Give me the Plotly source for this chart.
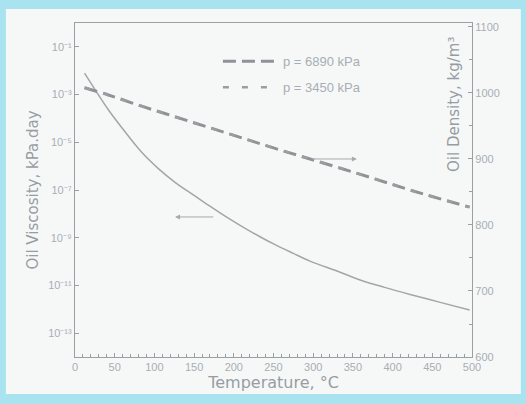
import plotly.graph_objects as go

# --- data ---
temp_visc = [12, 25, 42, 60, 84, 105, 126, 150, 168, 190, 210, 233, 252, 275, 296, 330, 359, 390, 422, 460, 497]
viscosity = [7.9e-3, 1.66e-3, 2.3e-4, 3.7e-5, 3.8e-6, 7.9e-7, 2.1e-7, 5.9e-8, 2.3e-8, 7.6e-9, 3.0e-9,
             1.1e-9, 5.1e-10, 2.2e-10, 1.05e-10, 4.0e-11, 1.7e-11, 8.3e-12, 4.2e-12, 1.95e-12, 9.3e-13]

temp_dens = [12, 42, 84, 126, 168, 210, 252, 296, 372, 422, 497]
density_6890 = [1008, 997, 980, 964, 948, 932, 916, 900, 872, 853, 827]
density_3450 = [1008, 997, 980, 964, 948, 932, 916, 900, 872, 853, 827]

x_ticks = [0, 50, 100, 150, 200, 250, 300, 350, 400, 450, 500]
visc_tickvals = [1e-1, 1e-3, 1e-5, 1e-7, 1e-9, 1e-11, 1e-13]
visc_ticktext = ["10⁻¹", "10⁻³", "10⁻⁵", "10⁻⁷", "10⁻⁹", "10⁻¹¹", "10⁻¹³"]
dens_ticks = [600, 700, 800, 900, 1000, 1100]

FONT = "Liberation Sans, Arial, sans-serif"
TFONT = "DejaVu Sans, Verdana, sans-serif"
TICK_C = "#a7aeb3"
TITLE_C = "#969da2"
AXIS_C = "#9a9fa3"

fig = go.Figure()
fig.add_trace(go.Scatter(x=temp_visc, y=viscosity, mode="lines", showlegend=False,
                         line=dict(color="#a3a6a8", width=1.5, shape="spline", smoothing=1.0)))
fig.add_trace(go.Scatter(x=temp_dens, y=density_6890, mode="lines", yaxis="y2",
                         name="p = 6890 kPa", legendgroup="a",
                         line=dict(color="#8f9396", width=3, dash="13px,6px", shape="spline", smoothing=1.0)))
fig.add_trace(go.Scatter(x=temp_dens, y=density_3450, mode="lines", yaxis="y2",
                         name="p = 3450 kPa", legendgroup="b",
                         line=dict(color="#9a9ea1", width=2.5, dash="6px,13px", shape="spline", smoothing=1.0)))

axis_common = dict(showline=True, linecolor=AXIS_C, linewidth=1.2, ticks="inside",
                   tickcolor=AXIS_C, ticklen=4, showgrid=False, zeroline=False,
                   tickfont=dict(family=FONT, size=11, color=TICK_C))

fig.update_layout(
    width=526, height=404,
    margin=dict(l=75, r=54, t=23, b=47),
    paper_bgcolor="#a9e3ef",
    plot_bgcolor="#f6f8f8",
    font=dict(family=FONT, color=TICK_C),
    xaxis=dict(range=[0, 500], tickvals=x_ticks, mirror=True,
               minor=dict(dtick=10, ticks="inside", ticklen=3, tickcolor=AXIS_C),
               title=dict(text="Temperature, °C", font=dict(family=TFONT, size=16, color=TITLE_C), standoff=3),
               **axis_common),
    yaxis=dict(type="log", range=[-14, 0], tickvals=visc_tickvals, ticktext=visc_ticktext,
               title=dict(text="Oil Viscosity, kPa.day", font=dict(family=TFONT, size=15, color=TITLE_C), standoff=5),
               **axis_common),
    yaxis2=dict(overlaying="y", side="right", range=[600, 1106], tickvals=dens_ticks,
                minor=dict(dtick=50, ticks="inside", ticklen=3, tickcolor=AXIS_C),
                **axis_common),
    legend=dict(x=0.36, y=0.93, xanchor="left", yanchor="top", bgcolor="rgba(0,0,0,0)",
                font=dict(family=FONT, size=13, color=TICK_C), traceorder="grouped",
                tracegroupgap=6, itemwidth=55),
    shapes=[dict(type="rect", xref="paper", yref="paper", x0=-0.174, x1=1.123, y0=-0.111, y1=1.042,
                 fillcolor="#f6f8f8", line=dict(width=0), layer="below")],
    annotations=[
        dict(text="Oil Density, kg/m³", xref="paper", yref="paper", x=0.955, y=0.755,
             xanchor="center", yanchor="middle",
             textangle=-90, showarrow=False, font=dict(family=TFONT, size=15, color=TITLE_C)),
        dict(x=355, y=900, xref="x", yref="y2", ax=296, ay=900, axref="x", ayref="y2",
             showarrow=True, arrowhead=2, arrowsize=1, arrowwidth=1, arrowcolor="#a6aaad", text=""),
        dict(x=126, y=-8.13, xref="x", yref="y", ax=176, ay=-8.13, axref="x", ayref="y",
             showarrow=True, arrowhead=2, arrowsize=1, arrowwidth=1, arrowcolor="#a6aaad", text=""),
    ],
)

fig.write_html("out.html")
